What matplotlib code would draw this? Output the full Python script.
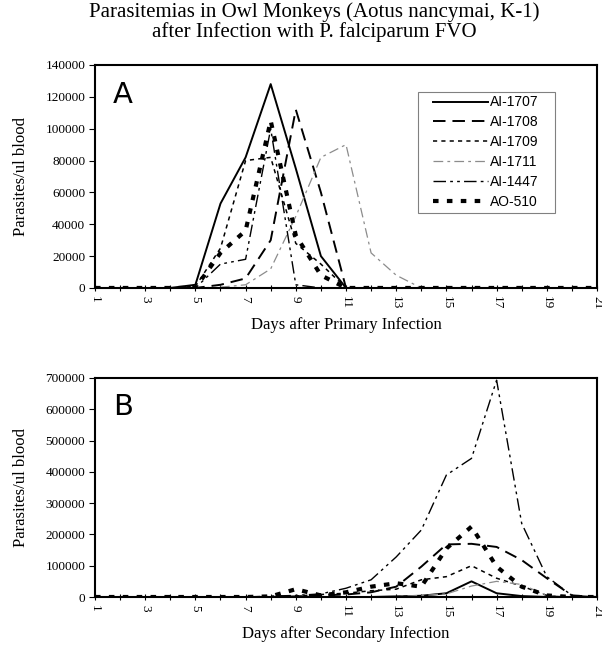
import numpy as np
import matplotlib.pyplot as plt
from matplotlib.patches import Rectangle

plt.rcParams['lines.scale_dashes'] = False

days = list(range(1, 22))
labels = ['AI-1707', 'AI-1708', 'AI-1709', 'AI-1711', 'AI-1447', 'AO-510']

# Panel A - primary infection (parasites/ul blood)
a_1707 = [0, 0, 0, 0, 2000, 53000, 82000, 128000, 75000, 20000, 0, 0, 0, 0, 0, 0, 0, 0, 0, 0, 0]
a_1708 = [0, 0, 0, 0, 0, 2000, 6000, 30000, 112000, 60000, 0, 0, 0, 0, 0, 0, 0, 0, 0, 0, 0]
a_1709 = [0, 0, 0, 0, 1000, 25000, 80000, 82000, 28000, 15000, 0, 0, 0, 0, 0, 0, 0, 0, 0, 0, 0]
a_1711 = [0, 0, 0, 0, 0, 500, 2000, 12000, 45000, 82000, 90000, 22000, 8000, 0, 0, 0, 0, 0, 0, 0, 0]
a_1447 = [0, 0, 0, 0, 0, 15000, 18000, 100000, 2000, 0, 0, 0, 0, 0, 0, 0, 0, 0, 0, 0, 0]
a_510 = [0, 0, 0, 0, 0, 22000, 36000, 105000, 33000, 8000, 0, 0, 0, 0, 0, 0, 0, 0, 0, 0, 0]

# Panel B - secondary infection
b_1707 = [0, 0, 0, 0, 0, 0, 0, 0, 0, 0, 0, 0, 2000, 4000, 12000, 50000, 12000, 3000, 0, 0, 0]
b_1708 = [0, 0, 0, 0, 0, 0, 0, 0, 2000, 5000, 8000, 15000, 33000, 97000, 168000, 170000, 160000, 118000, 60000, 5000, 0]
b_1709 = [0, 0, 0, 0, 0, 0, 0, 0, 3000, 8000, 12000, 20000, 25000, 55000, 65000, 100000, 60000, 35000, 5000, 0, 0]
b_1711 = [0, 0, 0, 0, 0, 0, 0, 0, 0, 0, 0, 0, 2000, 5000, 10000, 35000, 50000, 40000, 5000, 0, 0]
b_1447 = [0, 0, 0, 0, 0, 0, 0, 3000, 5000, 10000, 28000, 55000, 128000, 214000, 390000, 443000, 693000, 235000, 65000, 5000, 0]
b_510 = [0, 0, 0, 0, 0, 0, 0, 2000, 25000, 5000, 15000, 33000, 44000, 33000, 155000, 225000, 97000, 33000, 5000, 0, 0]

styles = [
    dict(color='black', lw=1.4, linestyle='-'),
    dict(color='black', lw=1.4, dashes=(9, 5)),
    dict(color='black', lw=1.1, dashes=(3, 3)),
    dict(color='#8c8c8c', lw=0.9, dashes=(7, 3, 2, 3)),
    dict(color='black', lw=1.0, dashes=(9, 3, 2, 3, 2, 3)),
    dict(color='black', lw=3.0, dashes=(4, 6)),
]

serif = 'Liberation Serif'
fig = plt.figure(figsize=(6.02, 6.48), dpi=100)

fig.text(0.522, 0.997, 'Parasitemias in Owl Monkeys (Aotus nancymai, K-1)',
         ha='center', va='top', fontsize=15, family=serif)
fig.text(0.522, 0.966, 'after Infection with P. falciparum FVO',
         ha='center', va='top', fontsize=15, family=serif)

ax_a = fig.add_axes([0.1578, 0.5556, 0.8339, 0.3441])
ax_b = fig.add_axes([0.1578, 0.0787, 0.8339, 0.3380])

panels = [
    (ax_a, [a_1707, a_1708, a_1709, a_1711, a_1447, a_510], 140000, 20000, 'A', 'Days after Primary Infection'),
    (ax_b, [b_1707, b_1708, b_1709, b_1711, b_1447, b_510], 700000, 100000, 'B', 'Days after Secondary Infection'),
]

for ax, series, ymax, ystep, tag, xlabel in panels:
    for vals, lab, st in zip(series, labels, styles):
        ax.plot(days, vals, label=lab, **st)

    ax.set_xlim(1, 21)
    ax.set_ylim(0, ymax)
    ax.set_xticks(days)
    ax.set_xticklabels([str(d) if d % 2 == 1 else '' for d in days],
                       rotation=270, family=serif, fontsize=9.5)
    ax.set_yticks(np.arange(0, ymax + 1, ystep))
    ax.set_yticklabels([str(int(v)) for v in np.arange(0, ymax + 1, ystep)],
                       family=serif, fontsize=9.5)
    ax.tick_params(axis='x', direction='inout', length=5, width=0.8, pad=3)
    ax.tick_params(axis='y', direction='out', length=4, width=0.8, pad=3)
    for sp in ax.spines.values():
        sp.set_linewidth(1.5)

    ax.set_ylabel('Parasites/ul blood', family=serif, fontsize=12, labelpad=12)
    ax.set_xlabel(xlabel, family=serif, fontsize=12, labelpad=6)
    ax.text(0.036, 0.93, tag, transform=ax.transAxes, ha='left', va='top',
            fontsize=21, family='DejaVu Sans')

# legend without its own frame, box drawn separately (wider side padding like the original)
ax_a.legend(loc='upper left', bbox_to_anchor=(0.666, 0.879), borderaxespad=0,
            frameon=False, handlelength=4.0, handletextpad=0.15,
            labelspacing=0.42, borderpad=0.25,
            prop={'family': 'Liberation Sans', 'size': 10})
ax_a.add_patch(Rectangle((0.6434, 0.3363), 0.2729, 0.5426, transform=ax_a.transAxes,
                         fill=False, edgecolor='#808080', lw=0.8, zorder=5))

plt.savefig('out.png', dpi=100)
